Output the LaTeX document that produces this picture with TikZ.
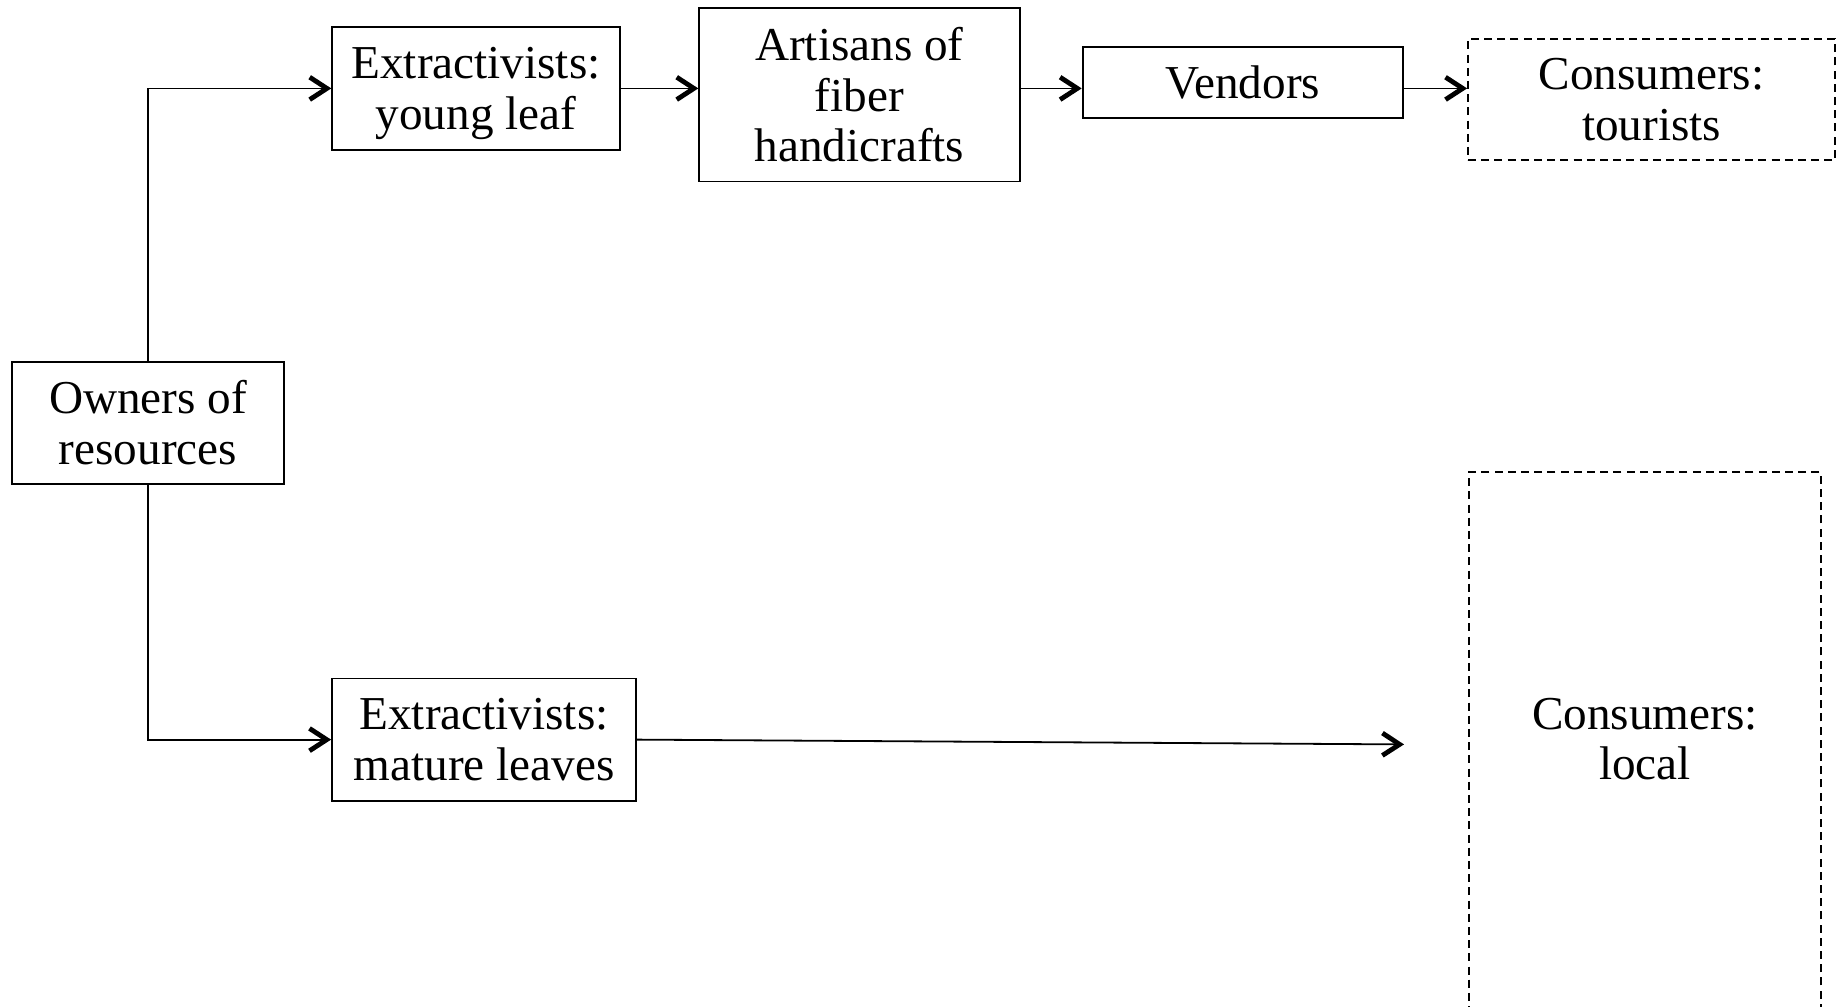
\documentclass[tikz,border=0pt]{standalone}
\usepackage{fontspec}
\setmainfont{Liberation Serif}
\usetikzlibrary{arrows.meta,positioning}

\begin{document}
\begin{tikzpicture}[x=1pt, y=1pt, node distance=15.3pt, line width=0.45pt,
  box/.style={draw, align=center, inner sep=0pt, font=\fontsize{11.8}{12.6}\selectfont},
  dbox/.style={box, dash pattern=on 2pt off 1.3pt},
  >={Straight Barb[length=4.3pt,width=5.6pt,line width=1.2pt]}]
\useasboundingbox (0,0) rectangle (461.75,-251.5);
\node[box, minimum width=68pt, minimum height=30.6pt] (own) at (37,-105.7) {Owners of\\resources};
\node[box, minimum width=71.9pt, minimum height=30.6pt, text depth=0pt] (young) at (119,-22.1) {Extractivists:\\young leaf};
\node[box, minimum width=80.1pt, minimum height=43.3pt, right=19.4pt of young, yshift=-1.6pt] (art) {Artisans of\\fiber\\handicrafts};
\node[box, minimum width=80.1pt, minimum height=17.7pt, right=of art, yshift=3.1pt] (vend) {Vendors};
\node[dbox, minimum width=91.8pt, minimum height=30.3pt, right=15.8pt of vend, yshift=-4.3pt] (tour) {Consumers:\\tourists};
\node[box, minimum width=76pt, minimum height=30.6pt] (mat) at (121,-184.9) {Extractivists:\\mature leaves};
\node[dbox, minimum width=88pt, minimum height=136pt, text depth=2.6pt, anchor=north west] (loc) at (367,-117.8) {Consumers:\\local};
\coordinate (lend) at (351,-186.1);
\draw[->] (own.north) |- (young.west);
\draw[->] (own.south) |- (mat.west);
\draw[->] (young.east) -- (young.east -| art.west);
\draw[->] (art.east |- young.east) -- (vend.west |- young.east);
\draw[->] (vend.east |- young.east) -- (tour.west |- young.east);
\draw[->] (mat.east) -- (lend);
\end{tikzpicture}
\end{document}
